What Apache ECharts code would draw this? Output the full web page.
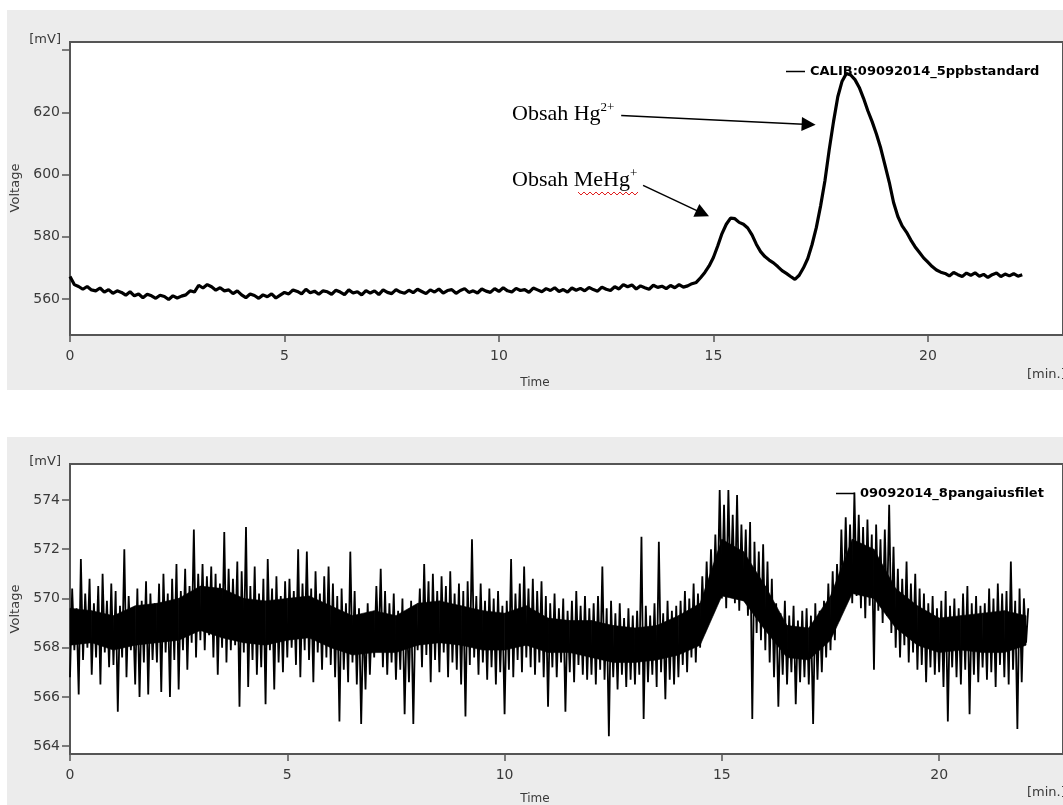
<!DOCTYPE html>
<html>
<head>
<meta charset="utf-8">
<script src="https://cdn.jsdelivr.net/npm/echarts@6/dist/echarts.min.js"></script>
<style>
html, body { margin: 0; padding: 0; background: #fff; }
#chart { width: 1063px; height: 805px; }
</style>
</head>
<body>
<div id="chart"></div>
<script>
// 数据：从图上读出
const calibName = 'CALIB:09092014_5ppbstandard'
const sampleName = '09092014_8pangaiusfilet'
const timeStep = 0.1 // min
const timeTicks = [0, 5, 10, 15, 20]
const calibTicks = [560, 580, 600, 620, 640]
const calibLabels = [560, 580, 600, 620]
const sampleTicks = [564, 566, 568, 570, 572, 574]

// 上图：标准溶液，每 0.1 min 一个值
const calibValues = [
  567.2, 564.6, 564.0, 563.1, 564.0, 562.9, 562.6, 563.5, 562.2, 563.0,
  561.8, 562.6, 562.1, 561.2, 562.3, 561.0, 561.6, 560.4, 561.5, 561.0,
  560.2, 561.2, 560.8, 559.8, 561.0, 560.3, 560.9, 561.3, 562.6, 562.2,
  564.4, 563.5, 564.6, 563.9, 562.8, 563.6, 562.6, 562.9, 561.7, 562.6,
  561.3, 560.4, 561.6, 561.1, 560.2, 561.3, 560.7, 561.6, 560.3, 561.2,
  562.1, 561.6, 562.9, 562.4, 561.6, 563.1, 562.0, 562.5, 561.5, 562.6,
  562.3, 561.5, 562.8, 562.2, 561.4, 562.9, 561.9, 562.3, 561.3, 562.7,
  561.9, 562.6, 561.4, 562.9, 562.1, 561.7, 563.0, 562.2, 561.8, 562.8,
  562.0, 563.1, 562.4, 561.7, 562.9, 562.2, 563.2, 561.9, 562.7, 563.0,
  561.8, 562.7, 563.3, 562.1, 562.6, 561.9, 563.2, 562.5, 562.1, 563.3,
  562.4, 563.6, 562.6, 562.2, 563.4, 562.7, 563.0, 562.1, 563.5, 562.9,
  562.3, 563.3, 562.7, 563.6, 562.4, 563.0, 562.2, 563.5, 562.8, 563.4,
  562.6, 563.7, 563.0, 562.5, 563.8, 563.1, 562.7, 563.9, 563.2, 564.6,
  563.9, 564.5, 563.2, 564.2, 563.6, 563.1, 564.4, 563.7, 564.1, 563.3,
  564.3, 563.6, 564.6, 563.8, 564.2, 564.9, 565.3, 566.8, 568.5, 570.6,
  573.3, 577.0, 581.0, 584.0, 586.0, 585.8, 584.6, 584.0, 582.8, 580.6,
  577.6, 575.2, 573.6, 572.5, 571.6, 570.4, 569.1, 568.2, 567.2, 566.3,
  567.6, 570.0, 573.0, 577.5, 583.0, 590.0, 598.0, 608.0, 617.0, 625.0,
  630.0, 632.5, 632.0, 630.5, 628.0, 624.5, 620.5, 617.0, 613.0, 608.5,
  603.0, 597.5, 591.0, 586.5, 583.5, 581.5, 579.0, 576.8, 575.0, 573.2,
  571.8, 570.4, 569.3, 568.6, 568.2, 567.4, 568.5, 567.8, 567.2, 568.3,
  567.6, 568.4, 567.3, 567.9, 566.9, 567.8, 568.3, 567.2, 568.0, 567.4,
  568.1, 567.3, 567.8
]

// 下图：样品，每 0.1 min 的上下尖峰
const sampleHigh = [
  570.4, 569.6, 571.6, 570.2, 570.8, 569.8, 570.5, 571.0, 569.9, 570.6,
  570.3, 569.7, 572.0, 570.1, 569.5, 570.4, 569.9, 570.7, 570.2, 569.8,
  570.6, 571.0, 570.2, 570.8, 571.4, 570.3, 571.2, 570.5, 572.8, 571.0,
  571.4, 570.9, 571.3, 571.0, 570.6, 572.7, 571.2, 570.8, 571.5, 571.1,
  572.9, 570.5, 571.3, 570.2, 570.8, 571.6, 570.4, 570.9, 570.1, 570.7,
  570.8, 570.3, 572.0, 570.6, 571.9, 570.4, 571.1, 570.2, 570.9, 571.3,
  570.6, 570.1, 570.4, 569.8, 571.9, 570.3, 569.6, 569.2, 569.8, 569.4,
  570.5, 571.2, 570.3, 569.8, 570.2, 569.5, 570.0, 569.4, 569.9, 569.6,
  570.4, 571.4, 570.7, 571.0, 570.3, 570.9, 570.5, 571.1, 570.2, 570.6,
  570.3, 570.7, 572.4, 570.1, 570.6, 569.9, 570.4, 570.0, 570.3, 569.7,
  569.9, 571.6, 570.2, 570.6, 571.3, 570.4, 570.8, 570.3, 570.7, 570.1,
  569.8, 570.2, 569.6, 570.0, 569.5, 569.9, 570.3, 569.7, 570.1, 569.6,
  569.8, 570.1, 571.3, 569.6, 569.9, 569.4, 569.8, 569.2, 569.6, 569.3,
  569.5, 572.5, 569.7, 569.3, 569.8, 572.3, 569.4, 569.9, 569.5, 569.7,
  569.9, 570.3, 570.0, 570.6, 570.2, 570.9, 571.5, 572.0, 572.6, 574.4,
  573.8, 574.4, 573.4, 574.2, 573.0, 572.8, 573.1, 572.3, 571.9, 572.2,
  571.5, 570.8, 569.8, 569.4, 569.9, 569.3, 569.7, 569.1, 569.5, 569.6,
  569.3, 569.8, 569.5, 569.9, 570.6, 571.1, 571.4, 572.8, 573.3, 573.0,
  574.3, 573.4, 572.9, 573.2, 572.6, 573.0, 572.4, 572.8, 573.8, 572.1,
  571.2, 570.8, 571.5, 570.6, 571.0, 570.4, 570.2, 569.8, 570.1, 569.6,
  569.9, 570.3, 569.7, 570.0, 569.6, 570.2, 570.5, 569.8, 570.1, 569.7,
  569.8, 570.4, 570.0, 570.6, 570.2, 570.3, 571.5, 569.9, 570.4, 570.0,
  569.6
]
const sampleLow = [
  566.8, 567.9, 566.1, 567.5, 568.0, 566.9, 567.6, 566.5, 567.8, 567.2,
  567.3, 565.4, 567.6, 566.8, 567.9, 566.5, 566.0, 567.4, 566.1, 567.5,
  567.4, 566.2, 567.8, 566.0, 567.5, 566.3, 567.9, 567.1, 568.2, 567.6,
  568.3, 567.9, 568.5, 567.6, 566.9, 568.0, 567.4, 567.9, 568.1, 565.6,
  567.8, 566.4, 567.5, 566.9, 567.2, 565.7, 567.9, 566.3, 567.4, 567.0,
  567.6, 568.0, 567.3, 566.8, 567.9, 567.5, 566.6, 567.8, 567.1, 567.6,
  567.3, 566.8, 565.0, 567.1, 566.6, 567.4, 566.5, 564.9, 566.3, 566.9,
  567.6, 567.9, 567.2, 566.9, 567.4, 566.7, 567.1, 565.3, 566.6, 564.9,
  567.9, 567.2, 567.7, 566.6, 567.5, 567.0, 567.8, 566.8, 567.4, 567.1,
  566.5, 565.2, 567.3, 567.6, 566.9, 567.4, 566.7, 567.2, 566.5, 567.0,
  565.3, 567.1, 566.8, 567.5, 567.0, 567.6, 567.2, 566.9, 567.4, 566.8,
  565.6, 567.2, 566.8, 567.4, 565.4, 567.0, 566.6, 567.3, 566.9, 566.7,
  566.9, 566.5, 567.1, 566.7, 564.4, 566.8, 566.3, 566.9, 566.4, 566.7,
  566.5, 566.9, 565.1, 566.6, 566.9, 566.4, 567.0, 565.9, 566.7, 566.5,
  566.8, 567.3, 567.0, 567.6, 567.4, 568.0, 568.6, 569.0, 569.4, 569.8,
  570.0, 569.6, 570.3, 569.8, 569.5, 569.9, 569.3, 565.1, 568.6, 568.3,
  567.9, 567.4, 566.8, 565.6, 566.9, 566.5, 567.0, 565.7, 566.6, 566.8,
  566.5, 564.9, 566.7, 567.0, 567.6, 567.9, 568.3, 569.1, 569.6, 570.0,
  569.8, 570.1, 569.6, 569.2, 569.7, 567.1, 569.5, 569.0, 569.3, 568.6,
  568.0, 567.6, 568.1, 567.4, 567.8, 567.1, 567.3, 566.6, 567.2, 566.9,
  567.0, 566.4, 565.0, 567.2, 566.8, 566.5, 567.1, 565.3, 566.9, 566.6,
  567.2, 566.7, 567.0, 566.4, 567.3, 566.8, 566.5, 567.1, 564.7, 566.6,
  568.2
]

// 下图：密集噪声的实心核心带，每 0.5 min
const coreStep = 0.5 // min
const coreLow = [
  568.1, 568.2, 567.9, 568.1, 568.2, 568.3, 568.7, 568.4, 568.2, 568.1,
  568.3, 568.4, 568.0, 567.7, 567.8, 567.8, 568.1, 568.2, 568.1, 567.9,
  567.9, 568.1, 567.8, 567.8, 567.6, 567.4, 567.4, 567.5, 567.7, 568.1,
  570.1, 569.9, 568.7, 567.6, 567.5, 568.3, 570.2, 570.0, 568.8, 568.1,
  567.8, 567.9, 567.8, 567.8, 568.1
]
const coreHigh = [
  569.6, 569.5, 569.3, 569.7, 569.8, 570.0, 570.5, 570.4, 570.0, 569.9,
  570.0, 570.1, 569.7, 569.3, 569.5, 569.3, 569.8, 569.9, 569.7, 569.5,
  569.4, 569.7, 569.2, 569.1, 569.1, 568.9, 568.8, 568.9, 569.3, 569.8,
  572.4, 571.9, 570.5, 568.9, 568.8, 570.1, 572.4, 572.0, 570.4, 569.7,
  569.2, 569.3, 569.4, 569.5, 569.3
]

const fontSans = 'DejaVu Sans'
const axisColor = '#555'
const labelColor = '#3a3a3a'

const calibData = calibValues.map((v, i) => [+(i * timeStep).toFixed(2), v])
const sampleData = []
sampleLow.forEach((lo, i) => {
  const t = i * timeStep
  sampleData.push([+t.toFixed(2), lo])
  sampleData.push([+(t + timeStep / 2).toFixed(2), sampleHigh[i]])
})
const coreData = coreLow.map((lo, i) => [i * coreStep, lo, coreHigh[i]])

// 核心带：相邻两点之间画一个四边形
function renderCore(params, api) {
  const i = params.dataIndex
  if (i >= coreData.length - 1) return
  const a = coreData[i]
  const b = coreData[i + 1]
  const points = [
    api.coord([a[0], a[1]]),
    api.coord([b[0], b[1]]),
    api.coord([b[0], b[2]]),
    api.coord([a[0], a[2]])
  ]
  return {
    type: 'polygon',
    shape: { points },
    style: { fill: '#000', stroke: '#000', lineWidth: 0.6 }
  }
}

function timeAxis(gridIndex, max) {
  return {
    type: 'value',
    gridIndex,
    min: 0,
    max,
    axisLine: { show: true, onZero: false, lineStyle: { color: axisColor, width: 2 } },
    axisTick: { show: true, length: 7, customValues: timeTicks, lineStyle: { color: axisColor, width: 1.5 } },
    axisLabel: { customValues: timeTicks, margin: 14, fontFamily: fontSans, fontSize: 14, color: labelColor },
    splitLine: { show: false }
  }
}

function voltAxis(gridIndex, min, max, ticks, labels) {
  return {
    type: 'value',
    gridIndex,
    min,
    max,
    axisLine: { show: true, lineStyle: { color: axisColor, width: 2 } },
    axisTick: { show: true, length: 8, customValues: ticks, lineStyle: { color: axisColor, width: 1.5 } },
    axisLabel: { customValues: labels, margin: 10, fontFamily: fontSans, fontSize: 14, color: labelColor },
    splitLine: { show: false }
  }
}

function legendFor(name, left, top) {
  return {
    data: [name],
    left,
    top,
    icon: 'rect',
    itemWidth: 19,
    itemHeight: 1.5,
    selectedMode: false,
    textStyle: { fontFamily: fontSans, fontWeight: 'bold', fontSize: 13, color: '#000' }
  }
}

function plainText(text, x, y, size, align, extra) {
  return Object.assign({
    type: 'text',
    x,
    y,
    style: {
      text,
      font: size + 'px "' + fontSans + '"',
      fill: labelColor,
      align: align || 'center',
      verticalAlign: 'middle'
    }
  }, extra || {})
}

// 拼写检查的红色波浪线
const wavy = []
for (let x = 578; x <= 640; x += 3) {
  wavy.push([x, (x - 578) % 6 === 0 ? 192 : 195])
}

const noteRich = {
  a: { fontFamily: 'Liberation Serif', fontSize: 22, color: '#111', lineHeight: 26 },
  s: { fontFamily: 'Liberation Serif', fontSize: 13, color: '#111', verticalAlign: 'top', lineHeight: 26, padding: [0, 0, 8, 0] }
}

const chart = echarts.init(document.getElementById('chart'))
chart.setOption({
  animation: false,
  backgroundColor: '#fff',
  grid: [
    { left: 70, top: 42, width: 1003, height: 293, show: true, backgroundColor: '#fff', borderColor: axisColor, borderWidth: 2, z: 1 },
    { left: 70, top: 464, width: 1003, height: 290, show: true, backgroundColor: '#fff', borderColor: axisColor, borderWidth: 2, z: 1 }
  ],
  xAxis: [timeAxis(0, 23.15), timeAxis(1, 22.85)],
  yAxis: [
    voltAxis(0, 548.4, 642.6, calibTicks, calibLabels),
    voltAxis(1, 563.68, 575.46, sampleTicks, sampleTicks)
  ],
  legend: [legendFor(calibName, 781, 60), legendFor(sampleName, 831, 482)],
  series: [
    {
      name: calibName,
      type: 'line',
      xAxisIndex: 0,
      yAxisIndex: 0,
      data: calibData,
      showSymbol: false,
      color: '#000',
      lineStyle: { color: '#000', width: 3.2 },
      z: 3,
      markLine: {
        silent: true,
        animation: false,
        symbol: ['none', 'triangle'],
        symbolSize: 14,
        label: { show: false },
        lineStyle: { color: '#000', width: 1.5, type: 'solid' },
        emphasis: { disabled: true },
        data: [
          [{ coord: [12.85, 619.0] }, { coord: [17.22, 616.1] }],
          [{ coord: [13.36, 596.5] }, { coord: [14.75, 587.5] }]
        ]
      }
    },
    {
      name: 'core',
      type: 'custom',
      xAxisIndex: 1,
      yAxisIndex: 1,
      data: coreData,
      encode: { x: 0, y: [1, 2] },
      renderItem: renderCore,
      silent: true,
      z: 2
    },
    {
      name: sampleName,
      type: 'line',
      xAxisIndex: 1,
      yAxisIndex: 1,
      data: sampleData,
      showSymbol: false,
      color: '#000',
      lineStyle: { color: '#000', width: 1.8 },
      z: 3
    }
  ],
  graphic: [
    { type: 'rect', z: -10, shape: { x: 7, y: 10, width: 1060, height: 380 }, style: { fill: '#ececec' } },
    { type: 'rect', z: -10, shape: { x: 7, y: 437, width: 1060, height: 370 }, style: { fill: '#ececec' } },
    plainText('[mV]', 61, 40, 13, 'right'),
    plainText('[mV]', 61, 462, 13, 'right'),
    plainText('Voltage', 16, 188, 13, 'center', { rotation: Math.PI / 2 }),
    plainText('Voltage', 16, 609, 13, 'center', { rotation: Math.PI / 2 }),
    plainText('Time', 535, 383, 12),
    plainText('Time', 535, 799, 12),
    plainText('[min.]', 1027, 375, 13, 'left'),
    plainText('[min.]', 1027, 793, 13, 'left'),
    {
      type: 'text', x: 512, y: 114, z: 10,
      style: { text: '{a|Obsah Hg}{s|2+}', rich: noteRich, align: 'left', verticalAlign: 'middle' }
    },
    {
      type: 'text', x: 512, y: 180, z: 10,
      style: { text: '{a|Obsah MeHg}{s|+}', rich: noteRich, align: 'left', verticalAlign: 'middle' }
    },
    { type: 'polyline', z: 10, shape: { points: wavy }, style: { stroke: '#e02020', lineWidth: 1, fill: null } }
  ]
})
</script>
</body>
</html>
